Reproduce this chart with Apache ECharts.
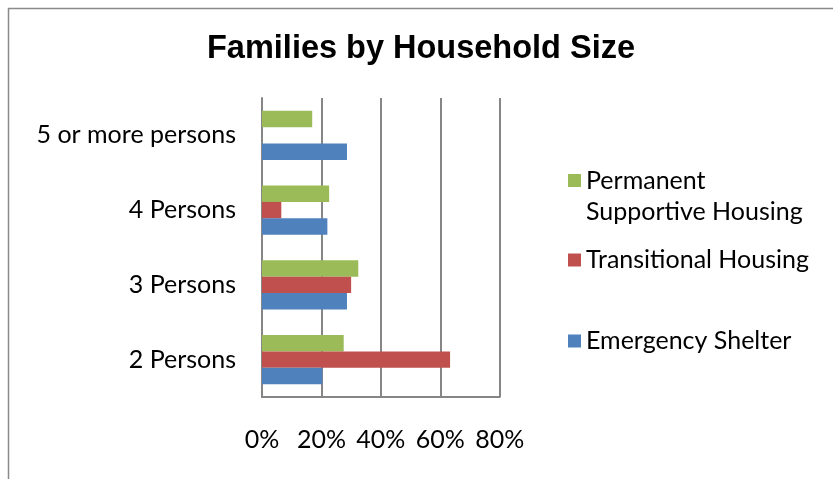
<!DOCTYPE html>
<html>
<head>
<meta charset="utf-8">
<style>
  html, body { margin: 0; padding: 0; background: #fff; }
  #chart { width: 833px; height: 479px; }
</style>
<script src="https://cdn.jsdelivr.net/npm/echarts@6/dist/echarts.min.js"></script>
</head>
<body>
<div id="chart"></div>
<script>
// Household size groups, listed bottom to top on the category axis
const categories = ['2 Persons', '3 Persons', '4 Persons', '5 or more persons'];

// Share of families (%) in each program type
const emergencyShelter = [20.3, 28.6, 22.0, 28.6];
const transitionalHousing = [63.3, 30.0, 6.5, 0];
const permanentSupportive = [27.5, 32.4, 22.6, 16.9];

// Value axis ticks (%)
const tickValues = [0, 20, 40, 60, 80];

// Series order sets the bar order inside each group (first = top)
const seriesNames = ['Permanent Supportive Housing', 'Transitional Housing', 'Emergency Shelter'];
const colors = ['#9BBB59', '#C0504D', '#4F81BD'];
const values = [permanentSupportive, transitionalHousing, emergencyShelter];

const labelFont = 'Lato, "Noto Sans", sans-serif';
const labelSize = 25;

const chart = echarts.init(document.getElementById('chart'), null, { renderer: 'canvas' });

const legendBase = {
  orient: 'vertical',
  left: 568,
  padding: 0,
  icon: 'rect',
  itemWidth: 13,
  itemHeight: 13,
  itemGap: 0,
  itemStyle: { borderWidth: 0 },
  textStyle: { fontFamily: labelFont, fontSize: labelSize, color: '#000', lineHeight: 31 }
};

chart.setOption({
  animation: false,
  backgroundColor: '#fff',
  title: {
    text: 'Families by Household Size',
    left: 202,
    top: 28,
    textStyle: {
      fontFamily: '"Liberation Sans", Arial, sans-serif',
      fontWeight: 'bold',
      fontSize: 32.5,
      color: '#000'
    }
  },
  graphic: [{
    type: 'polyline',
    silent: true,
    shape: { points: [[8.5, 479], [8.5, 8.5], [833, 8.5]] },
    style: { stroke: '#8a8a8a', lineWidth: 1.5, fill: null }
  }],
  legend: [
    // blank first line keeps the swatch level with "Permanent"
    Object.assign({}, legendBase, {
      top: 134,
      data: [seriesNames[0]],
      formatter: () => ' \nPermanent\nSupportive Housing'
    }),
    Object.assign({}, legendBase, { top: 244.5, data: [seriesNames[1]] }),
    Object.assign({}, legendBase, { top: 325.5, data: [seriesNames[2]] })
  ],
  grid: { left: 262, right: 333.3, top: 98, bottom: 82, containLabel: false },
  xAxis: {
    type: 'value',
    min: tickValues[0],
    max: tickValues[tickValues.length - 1],
    interval: tickValues[1] - tickValues[0],
    axisLine: { show: true, lineStyle: { color: '#868686', width: 2 } },
    axisTick: { show: false },
    splitLine: { show: true, lineStyle: { color: '#868686', width: 2 } },
    axisLabel: {
      formatter: '{value}%',
      fontFamily: labelFont,
      fontSize: labelSize,
      color: '#000',
      margin: 30
    }
  },
  yAxis: {
    type: 'category',
    data: categories,
    axisLine: { show: true, lineStyle: { color: '#868686', width: 2 } },
    axisTick: { show: false },
    splitLine: { show: false },
    axisLabel: {
      fontFamily: labelFont,
      fontSize: labelSize,
      color: '#000',
      margin: 26
    }
  },
  series: seriesNames.map((name, i) => ({
    name: name,
    type: 'bar',
    data: values[i],
    barGap: '0%',
    barCategoryGap: '34%',
    itemStyle: { color: colors[i] },
    emphasis: { disabled: true }
  }))
});
</script>
</body>
</html>
